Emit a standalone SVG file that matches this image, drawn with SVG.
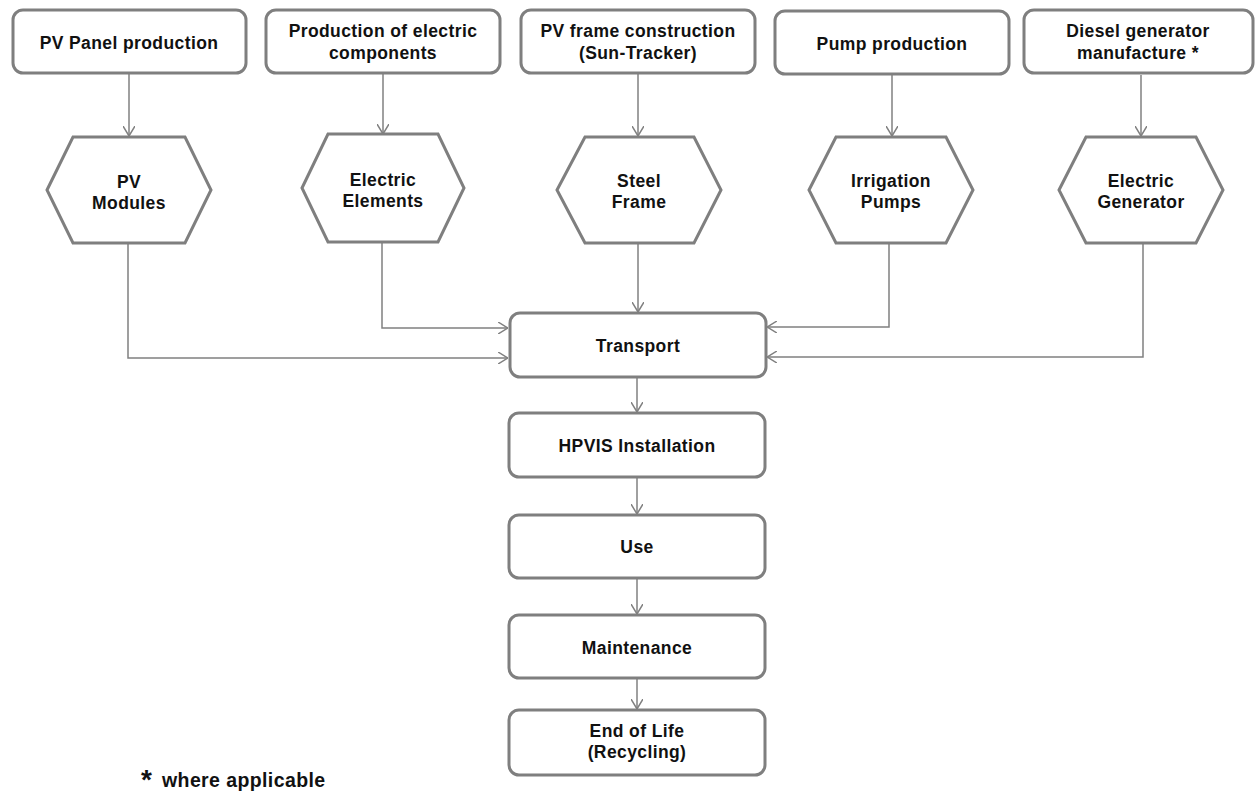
<svg xmlns="http://www.w3.org/2000/svg" width="1255" height="793" viewBox="0 0 1255 793">
<style>
.box{fill:#fff;stroke:#7f7f7f;stroke-width:3}
.t{font-family:"Liberation Sans",Arial,sans-serif;font-weight:bold;font-size:17.5px;fill:#111;text-anchor:middle;letter-spacing:0.4px}
.c{fill:none;stroke:#808080;stroke-width:1.5}
</style>
<defs>
<marker id="ah" viewBox="0 0 10 12" refX="10" refY="6" markerWidth="10" markerHeight="12" markerUnits="userSpaceOnUse" orient="auto">
<path d="M0,0 L10,6 L0,12" fill="none" stroke="#808080" stroke-width="1.5"/>
</marker>
</defs>
<rect width="1255" height="793" fill="#fff"/>
<g id="connectors">
<path class="c" marker-end="url(#ah)" d="M129,74 V136"/>
<path class="c" marker-end="url(#ah)" d="M383,74 V134"/>
<path class="c" marker-end="url(#ah)" d="M638,74 V136"/>
<path class="c" marker-end="url(#ah)" d="M892,75 V136"/>
<path class="c" marker-end="url(#ah)" d="M1141,75 V136"/>
<path class="c" marker-end="url(#ah)" d="M128,244 V358 H508"/>
<path class="c" marker-end="url(#ah)" d="M382,242 V328 H508"/>
<path class="c" marker-end="url(#ah)" d="M638,244 V312"/>
<path class="c" marker-end="url(#ah)" d="M889,244 V327 H767"/>
<path class="c" marker-end="url(#ah)" d="M1143,244 V357 H767"/>
<path class="c" marker-end="url(#ah)" d="M637,378 V412"/>
<path class="c" marker-end="url(#ah)" d="M637,478 V514"/>
<path class="c" marker-end="url(#ah)" d="M637,579 V614"/>
<path class="c" marker-end="url(#ah)" d="M637,679 V709"/>
</g>
<g id="n1"><rect class="box" x="13" y="10" width="233" height="63" rx="10"/><text class="t" x="129" y="49">PV Panel production</text></g>
<g id="n2"><rect class="box" x="266" y="10" width="234" height="63" rx="10"/><text class="t" x="383" y="37">Production of electric</text><text class="t" x="383" y="59">components</text></g>
<g id="n3"><rect class="box" x="521" y="10" width="234" height="63" rx="10"/><text class="t" x="638" y="37">PV frame construction</text><text class="t" x="638" y="59">(Sun-Tracker)</text></g>
<g id="n4"><rect class="box" x="775" y="11" width="234" height="63" rx="10"/><text class="t" x="892" y="50">Pump production</text></g>
<g id="n5"><rect class="box" x="1024" y="10" width="229" height="63" rx="10"/><text class="t" x="1138" y="37">Diesel generator</text><text class="t" x="1138" y="59">manufacture *</text></g>
<g id="h1"><polygon class="box" points="47,190 73,137 185,137 211,190 185,243 73,243"/><text class="t" x="129" y="188">PV</text><text class="t" x="129" y="209">Modules</text></g>
<g id="h2"><polygon class="box" points="302,188 328,134 438,134 464,188 438,242 328,242"/><text class="t" x="383" y="186">Electric</text><text class="t" x="383" y="207">Elements</text></g>
<g id="h3"><polygon class="box" points="557,190 585,137 694,137 721,190 694,243 585,243"/><text class="t" x="639" y="187">Steel</text><text class="t" x="639" y="208">Frame</text></g>
<g id="h4"><polygon class="box" points="809,190 836,137 946,137 973,190 946,243 836,243"/><text class="t" x="891" y="187">Irrigation</text><text class="t" x="891" y="208">Pumps</text></g>
<g id="h5"><polygon class="box" points="1059,190 1086,137 1196,137 1223,190 1196,243 1086,243"/><text class="t" x="1141" y="187">Electric</text><text class="t" x="1141" y="208">Generator</text></g>
<g id="transport"><rect class="box" x="510" y="313" width="256" height="64" rx="10"/><text class="t" x="638" y="352">Transport</text></g>
<g id="install"><rect class="box" x="509" y="413" width="256" height="64" rx="10"/><text class="t" x="637" y="452">HPVIS Installation</text></g>
<g id="use"><rect class="box" x="509" y="515" width="256" height="63" rx="10"/><text class="t" x="637" y="553">Use</text></g>
<g id="maint"><rect class="box" x="509" y="615" width="256" height="63" rx="10"/><text class="t" x="637" y="654">Maintenance</text></g>
<g id="eol"><rect class="box" x="509" y="710" width="256" height="65" rx="10"/><text class="t" x="637" y="737">End of Life</text><text class="t" x="637" y="758">(Recycling)</text></g>
<g id="footnote"><text x="141" y="789" style="font-family:'Liberation Sans',Arial,sans-serif;font-weight:bold;font-size:28px;fill:#111">*</text><text x="162" y="787" style="font-family:'Liberation Sans',Arial,sans-serif;font-weight:bold;font-size:19.5px;fill:#111;letter-spacing:0.4px">where applicable</text></g>
</svg>
